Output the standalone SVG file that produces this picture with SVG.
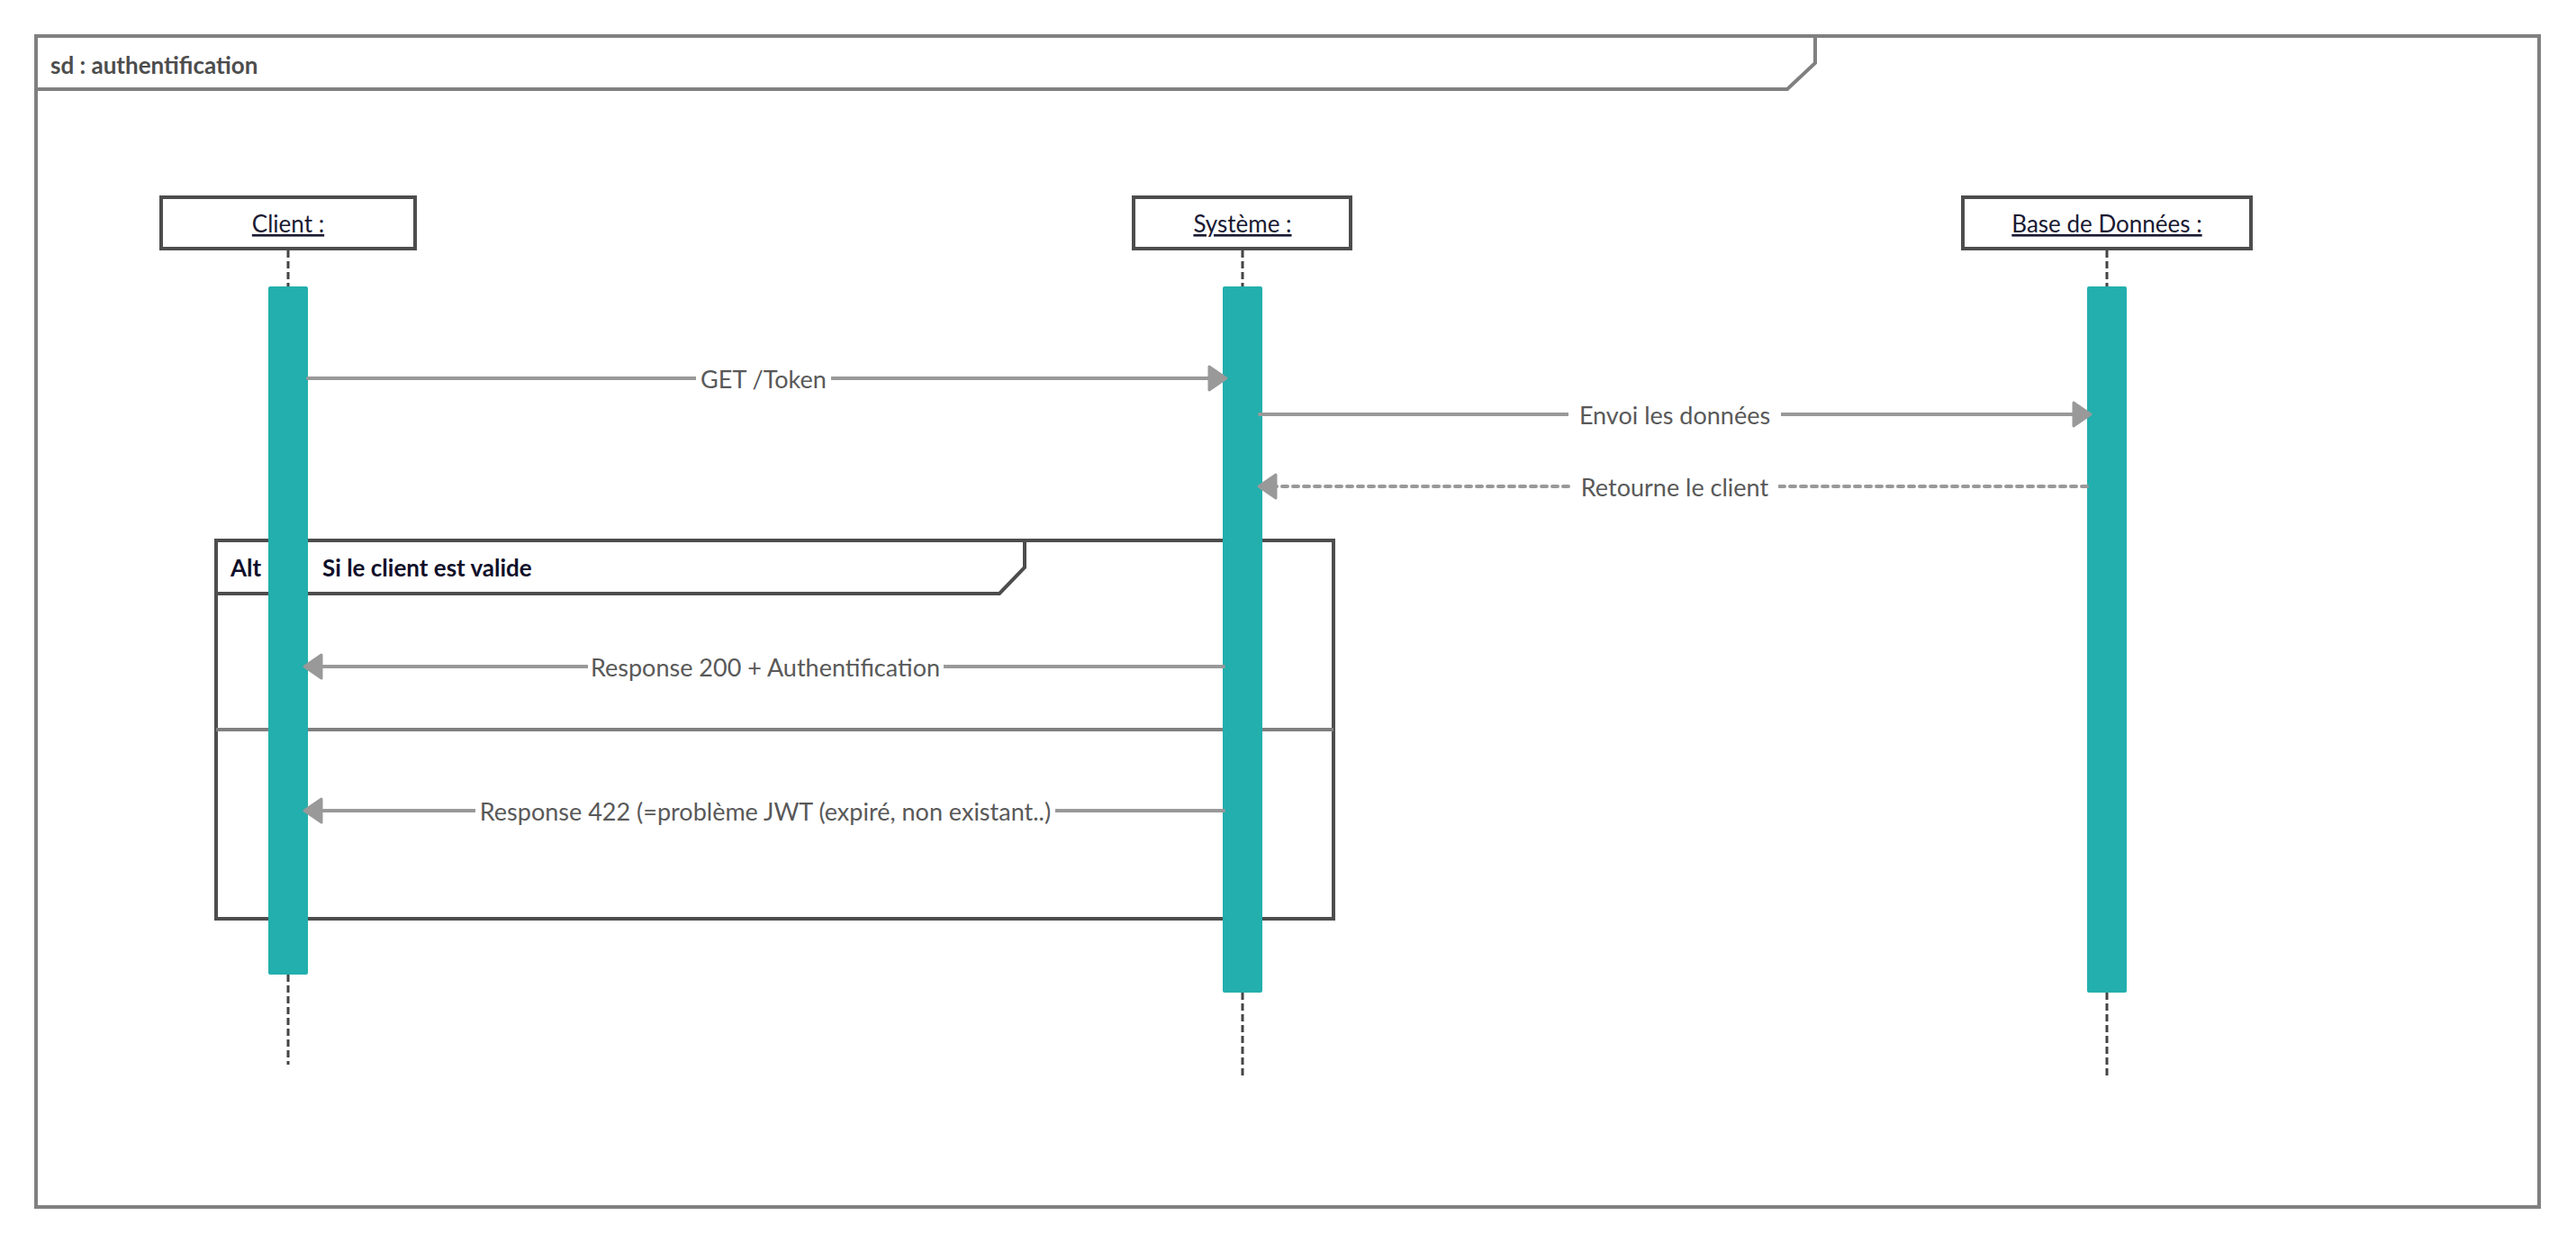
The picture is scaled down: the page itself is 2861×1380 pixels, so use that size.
<svg xmlns="http://www.w3.org/2000/svg" width="2861" height="1380" viewBox="0 0 2861 1380">
  <style>
    .frame { fill: none; stroke: #808080; stroke-width: 4; }
    .fragment { fill: none; stroke: #4d4d4d; stroke-width: 4; }
    .divider { stroke: #808080; stroke-width: 4; }
    .head-box { fill: #ffffff; stroke: #4d4d4d; stroke-width: 4; }
    .lifeline { stroke: #444444; stroke-width: 3; stroke-dasharray: 8 4; }
    .activation { fill: #22afad; }
    .msg { stroke: #999999; stroke-width: 4; fill: none; stroke-linecap: round; }
    .reply { stroke-dasharray: 6 6; }
    .label-bg { fill: #ffffff; }
    .title { font-family: Lato, "Liberation Sans", sans-serif; font-size: 26px; font-weight: 700; fill: #4d4d4d; }
    .frag-text { font-family: Lato, "Liberation Sans", sans-serif; font-size: 26px; font-weight: 700; fill: #10102a; }
    .participant { font-family: Lato, "Liberation Sans", sans-serif; font-size: 26px; fill: #1a1a33; text-anchor: middle; text-decoration: underline; }
    .label { font-family: Lato, "Liberation Sans", sans-serif; font-size: 27px; fill: #595959; text-anchor: middle; dominant-baseline: central; }
  </style>
  <defs>
    <marker id="arrow" markerUnits="userSpaceOnUse" markerWidth="26" markerHeight="32" viewBox="0 0 26 32" refX="4" refY="16" orient="auto">
      <path d="M3,3 L22,16 L3,29 Z" fill="#999999" stroke="#999999" stroke-width="3" stroke-linejoin="round" stroke-dasharray="none"/>
    </marker>
  </defs>

  <rect x="0" y="0" width="2861" height="1380" fill="#ffffff"/>

  <!-- sequence diagram frame -->
  <g id="frame-sd">
    <rect class="frame" x="40" y="40" width="2780" height="1300"/>
    <path class="frame" d="M40,99 H1985 L2016,70 V40"/>
    <text class="title" x="56" y="82">sd : authentification</text>
  </g>

  <!-- alt combined fragment -->
  <g id="fragment-alt">
    <rect class="fragment" x="240" y="600" width="1241" height="420"/>
    <path class="fragment" d="M240,659 H1110 L1138,630 V600"/>
    <line class="divider" x1="240" y1="810" x2="1481" y2="810"/>
    <text class="frag-text" x="256" y="640">Alt</text>
    <text class="frag-text" x="358" y="640">Si le client est valide</text>
  </g>

  <!-- participants -->
  <g id="client">
    <rect class="head-box" x="179" y="219" width="282" height="57"/>
    <text class="participant" x="320" y="258">Client :</text>
    <line class="lifeline" x1="320" y1="278" x2="320" y2="318"/>
    <line class="lifeline" x1="320" y1="1082" x2="320" y2="1182"/>
    <rect class="activation" x="298" y="318" width="44" height="764" rx="2"/>
  </g>
  <g id="systeme">
    <rect class="head-box" x="1259" y="219" width="241" height="57"/>
    <text class="participant" x="1380" y="258">Système :</text>
    <line class="lifeline" x1="1380" y1="278" x2="1380" y2="318"/>
    <line class="lifeline" x1="1380" y1="1102" x2="1380" y2="1196"/>
    <rect class="activation" x="1358" y="318" width="44" height="784" rx="2"/>
  </g>
  <g id="base-de-donnees">
    <rect class="head-box" x="2180" y="219" width="320" height="57"/>
    <text class="participant" x="2340" y="258">Base de Données :</text>
    <line class="lifeline" x1="2340" y1="278" x2="2340" y2="318"/>
    <line class="lifeline" x1="2340" y1="1102" x2="2340" y2="1196"/>
    <rect class="activation" x="2318" y="318" width="44" height="784" rx="2"/>
  </g>

  <!-- messages -->
  <g id="messages">
    <line class="msg" x1="342" y1="420" x2="1344" y2="420" marker-end="url(#arrow)"/>
    <rect class="label-bg" x="773" y="404" width="150" height="32"/>
    <text class="label" x="848" y="420">GET /Token</text>

    <line class="msg" x1="1399" y1="460" x2="2304" y2="460" marker-end="url(#arrow)"/>
    <rect class="label-bg" x="1742" y="444" width="236" height="32"/>
    <text class="label" x="1860" y="460">Envoi les données</text>

    <line class="msg reply" x1="2318" y1="540" x2="1416" y2="540" marker-end="url(#arrow)"/>
    <rect class="label-bg" x="1745" y="524" width="230" height="32"/>
    <text class="label" x="1860" y="540">Retourne le client</text>

    <line class="msg" x1="1359" y1="740" x2="356" y2="740" marker-end="url(#arrow)"/>
    <rect class="label-bg" x="653" y="724" width="395" height="32"/>
    <text class="label" x="850" y="740">Response 200 + Authentification</text>

    <line class="msg" x1="1359" y1="900" x2="356" y2="900" marker-end="url(#arrow)"/>
    <rect class="label-bg" x="528" y="884" width="644" height="32"/>
    <text class="label" x="850" y="900">Response 422 (=problème JWT (expiré, non existant..)</text>
  </g>
</svg>
